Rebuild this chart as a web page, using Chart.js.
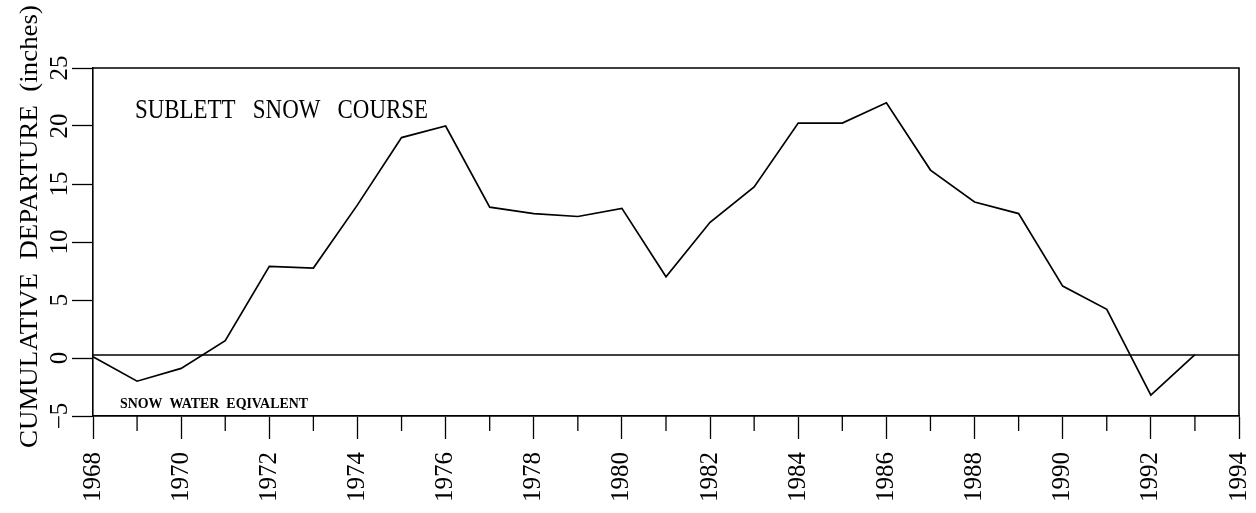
<!DOCTYPE html>
<html>
<head>
<meta charset="utf-8">
<script src="https://cdn.jsdelivr.net/npm/chart.js@4.4.1/dist/chart.umd.min.js"></script>
<style>
  html, body { margin: 0; padding: 0; background: #fff; }
  #wrap { width: 1256px; height: 513px; }
</style>
</head>
<body>
<div id="wrap"><canvas id="snowChart" width="1256" height="513"></canvas></div>
<script>
// --- data
const years = [1968, 1969, 1970, 1971, 1972, 1973, 1974, 1975, 1976, 1977, 1978, 1979, 1980,
               1981, 1982, 1983, 1984, 1985, 1986, 1987, 1988, 1989, 1990, 1991, 1992, 1993];
const departure = [0.1, -2.0, -0.9, 1.5, 7.9, 7.75, 13.2, 19.0, 20.0, 13.0, 12.45, 12.2, 12.9,
                   7.0, 11.7, 14.75, 20.25, 20.25, 22.0, 16.2, 13.45, 12.45, 6.2, 4.2, -3.2, 0.3];
const referenceLevel = 0.25;
const yTickLabels = [-5, 0, 5, 10, 15, 20, 25];
const xRange = [1968, 1994];

const serif = '"Liberation Serif", "Times New Roman", serif';

// draws text squeezed/stretched to a given width (the scan's type is narrower than ours)
function fitText(ctx, text, x, y, width, font, rotate) {
    ctx.save();
    ctx.font = font;
    const w = ctx.measureText(text).width;
    ctx.translate(x, y);
    if (rotate) ctx.rotate(-Math.PI / 2);
    ctx.scale(width / w, 1);
    ctx.textAlign = 'left';
    ctx.textBaseline = 'alphabetic';
    ctx.fillText(text, 0, 0);
    ctx.restore();
}

const decorations = {
    id: 'decorations',
    afterDraw(chart) {
        const ctx = chart.ctx;
        const area = chart.chartArea;
        const xs = chart.scales.x, ys = chart.scales.y;
        ctx.save();
        ctx.strokeStyle = '#000';
        ctx.fillStyle = '#000';

        // top and right frame
        ctx.lineWidth = 1.6;
        ctx.beginPath();
        ctx.moveTo(area.left, area.top);
        ctx.lineTo(area.right, area.top);
        ctx.lineTo(area.right, area.bottom);
        ctx.stroke();

        // short ticks for odd years
        ctx.lineWidth = 1.3;
        xs.ticks.forEach(t => {
            if (t.value % 2 !== 0) {
                const px = xs.getPixelForValue(t.value);
                ctx.beginPath();
                ctx.moveTo(px, area.bottom);
                ctx.lineTo(px, area.bottom + 15);
                ctx.stroke();
            }
        });

        // rotated y tick labels
        ctx.font = '25px ' + serif;
        ctx.textAlign = 'center';
        ctx.textBaseline = 'alphabetic';
        yTickLabels.forEach(v => {
            const py = ys.getPixelForValue(v);
            ctx.save();
            ctx.translate(67, py);
            ctx.rotate(-Math.PI / 2);
            ctx.fillText(String(v).replace('-', '\u2212'), 0, 0);
            ctx.restore();
        });

        // axis title
        fitText(ctx, 'CUMULATIVE  DEPARTURE  (inches)', 37, 448, 443, '26px ' + serif, true);

        // plot annotations
        fitText(ctx, 'SUBLETT   SNOW   COURSE', 135, 118, 293, '27px ' + serif);
        fitText(ctx, 'SNOW  WATER  EQIVALENT', 120, 408, 188, 'bold 14px ' + serif);
        ctx.restore();
    }
};

const ctx = document.getElementById('snowChart');
new Chart(ctx, {
    type: 'line',
    data: {
        datasets: [{
            label: 'Cumulative departure',
            data: years.map((yr, i) => ({ x: yr, y: departure[i] })),
            borderColor: '#000',
            borderWidth: 1.7,
            pointRadius: 0,
            tension: 0
        }, {
            label: 'reference',
            data: [{ x: xRange[0], y: referenceLevel }, { x: xRange[1], y: referenceLevel }],
            borderColor: '#000',
            borderWidth: 1.5,
            pointRadius: 0
        }]
    },
    options: {
        responsive: false,
        animation: false,
        layout: { autoPadding: false, padding: { top: 68, right: 17, left: 0, bottom: 0 } },
        plugins: {
            legend: { display: false },
            tooltip: { enabled: false }
        },
        scales: {
            x: {
                type: 'linear',
                min: xRange[0],
                max: xRange[1],
                afterFit: s => { s.height = 97; s.paddingLeft = 0; s.paddingRight = 0; },
                border: { display: true, color: '#000', width: 1.8 },
                grid: {
                    drawOnChartArea: false,
                    drawTicks: true,
                    tickLength: 23,
                    tickWidth: 1.3,
                    tickColor: c => (c.tick && c.tick.value % 2 === 0) ? '#000' : 'rgba(0,0,0,0)'
                },
                ticks: {
                    stepSize: 1,
                    autoSkip: false,
                    minRotation: 90,
                    maxRotation: 90,
                    padding: 13,
                    color: '#000',
                    font: { family: serif, size: 25 },
                    callback: v => (v % 2 === 0 ? String(v) : '')
                }
            },
            y: {
                min: -5,
                max: 25,
                afterFit: s => { s.width = 93; s.paddingTop = 0; s.paddingBottom = 0; },
                border: { display: true, color: '#000', width: 1.6 },
                grid: {
                    drawOnChartArea: false,
                    drawTicks: true,
                    tickLength: 21,
                    tickWidth: 1.3,
                    tickColor: '#000'
                },
                ticks: { stepSize: 5, display: false }
            }
        }
    },
    plugins: [decorations]
});
</script>
</body>
</html>
